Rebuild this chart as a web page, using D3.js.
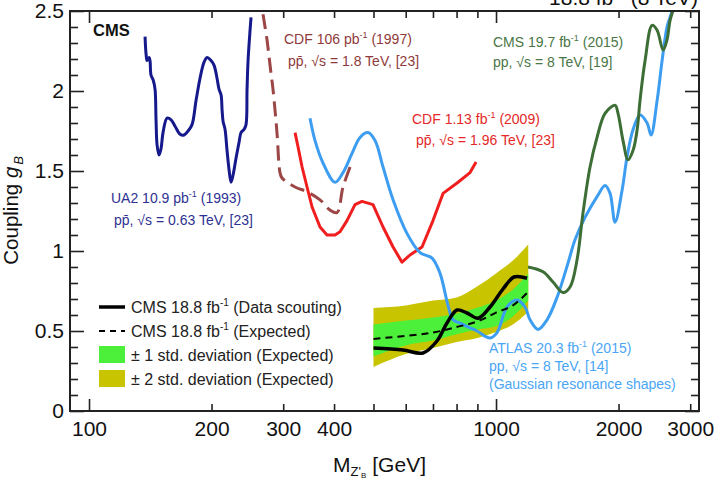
<!DOCTYPE html>
<html>
<head>
<meta charset="utf-8">
<script src="https://cdn.jsdelivr.net/npm/d3@7"></script>
<style>
  body { margin: 0; background: #fff; }
  svg { font-family: "Liberation Sans", Arial, Helvetica, sans-serif; }
</style>
</head>
<body>
<div id="chart"></div>
<script>
// ---- data ----
const ua2Mass = [137.3, 138.1, 138.9, 140.4, 141.2, 142.0, 143.7, 145.3, 146.1, 147.0, 148.6, 150.3, 152.0, 155.5, 159.1, 162.7, 167.4, 171.2, 175.1, 179.1, 183.2, 187.4, 191.7, 195.0, 199.4, 202.9, 206.3, 208.7, 211.1, 212.3, 213.5, 215.9, 218.3, 220.8, 223.3, 225.9, 229.7, 233.7, 236.3, 240.4, 243.1, 244.5, 245.9, 248.7, 250.1];
const ua2Coupling = [2.34, 2.23, 2.19, 2.21, 2.19, 2.10, 2.07, 2.01, 1.82, 1.66, 1.60, 1.64, 1.74, 1.83, 1.82, 1.78, 1.73, 1.725, 1.75, 1.79, 1.94, 2.08, 2.18, 2.21, 2.19, 2.16, 2.08, 2.01, 1.975, 1.88, 1.81, 1.76, 1.63, 1.51, 1.43, 1.475, 1.58, 1.68, 1.74, 1.76, 1.79, 2.01, 2.19, 2.38, 2.46];

const cdf106Mass = [267.6, 273.7, 280.0, 283.2, 289.6, 294.6, 298.0, 320.8, 343.3, 369.5, 390.9, 406.7, 420.8, 442.8];
const cdf106Coupling = [2.48, 2.32, 2.11, 2.01, 1.74, 1.49, 1.456, 1.40, 1.37, 1.32, 1.256, 1.24, 1.40, 1.556];

const cdf113Mass = [320.8, 326.3, 333.8, 343.3, 353.2, 369.5, 384.4, 402.2, 413.7, 430.4, 450.3, 468.5, 498.6, 527.7, 558.5, 587.5, 614.7, 658.0, 700.1, 741.0, 802.3, 863.4, 893.3];
const cdf113Coupling = [1.74, 1.65, 1.525, 1.40, 1.275, 1.15, 1.10, 1.10, 1.12, 1.19, 1.29, 1.31, 1.29, 1.15, 1.025, 0.93, 0.975, 1.025, 1.19, 1.36, 1.425, 1.49, 1.556];

const atlasMass = [349.1, 359.2, 375.8, 402.2, 420.8, 442.8, 463.3, 484.8, 504.4, 527.7, 558.5, 604.2, 650.6, 696.4, 728.6, 762.2, 784.1, 815.8, 853.5, 898.2, 966.7, 1005.8, 1064.3, 1126.2, 1178.4, 1212.2, 1268.4, 1334.6, 1412.3, 1502.9, 1563.6, 1654.6, 1771.1, 1853.2, 1906.4, 1961.2, 2040.6, 2099.3, 2171.6, 2259.3, 2350.6, 2404.3, 2487.6, 2559.0, 2631.0, 2706.6, 2760.0];
const atlasCoupling = [1.83, 1.69, 1.55, 1.43, 1.49, 1.61, 1.71, 1.74, 1.69, 1.525, 1.32, 1.11, 0.99, 0.956, 0.86, 0.66, 0.57, 0.55, 0.525, 0.50, 0.456, 0.49, 0.65, 0.694, 0.65, 0.57, 0.51, 0.57, 0.71, 0.925, 1.07, 1.21, 1.34, 1.41, 1.36, 1.18, 1.38, 1.59, 1.76, 1.85, 1.80, 1.725, 1.94, 2.19, 2.40, 2.50, 2.60];

const cms197Mass = [1198.6, 1304.7, 1380.4, 1461.1, 1520.1, 1581.3, 1636.1, 1702.2, 1771.1, 1853.2, 1961.2, 1994.2, 2051.2, 2110.1, 2171.6, 2221.2, 2259.3, 2324.1, 2418.1, 2487.6, 2573.3, 2631.0, 2676.1, 2722.2, 2760.0];
const cms197Coupling = [0.90, 0.87, 0.806, 0.74, 0.775, 0.944, 1.24, 1.525, 1.71, 1.86, 1.91, 1.86, 1.69, 1.57, 1.63, 1.756, 1.944, 2.19, 2.41, 2.38, 2.256, 2.32, 2.44, 2.506, 2.60];

const bandMass = [500, 600, 700, 800, 900, 1000, 1100, 1200];
const twoSigmaUp = [0.644, 0.66, 0.69, 0.71, 0.78, 0.86, 0.94, 1.04];
const twoSigmaDown = [0.275, 0.356, 0.394, 0.431, 0.456, 0.494, 0.54, 0.62];
const oneSigmaUp = [0.54, 0.565, 0.585, 0.61, 0.645, 0.69, 0.76, 0.86];
const oneSigmaDown = [0.34, 0.41, 0.44, 0.48, 0.51, 0.53, 0.59, 0.69];
const expected = [0.45, 0.47, 0.49, 0.525, 0.56, 0.615, 0.66, 0.745];

const observedMass = [500, 590.9, 661.6, 716.1, 757.8, 802.3, 848.6, 903.2, 966.7, 1040.4, 1107.1, 1192];
const observed = [0.394, 0.381, 0.3625, 0.4375, 0.55, 0.631, 0.6125, 0.58, 0.65, 0.7625, 0.8375, 0.83];

const xTicks = [100, 200, 300, 400, 500, 600, 700, 800, 900, 1000, 2000, 3000];
const xTickLabels = [100, 200, 300, 400, 1000, 2000, 3000];
const yMajor = [0, 0.5, 1, 1.5, 2, 2.5];

// ---- layout ----
const width = 714, height = 480;
const plotLeft = 70, plotRight = 699, plotTop = 11, plotBottom = 411;

const svg = d3.select("#chart").append("svg")
    .attr("width", width)
    .attr("height", height);

const x = d3.scaleLog().domain([89.8, 3153]).range([plotLeft, plotRight]);
const y = d3.scaleLinear().domain([0, 2.5]).range([plotBottom, plotTop]);

svg.append("clipPath").attr("id", "plotClip")
    .append("rect")
    .attr("x", plotLeft).attr("y", plotTop)
    .attr("width", plotRight - plotLeft).attr("height", plotBottom - plotTop);

const plot = svg.append("g").attr("clip-path", "url(#plotClip)");

const zip = (xs, ys) => xs.map((m, i) => [m, ys[i]]);

// bands
const band = d3.area()
    .x(d => x(d[0]))
    .y0(d => y(d[1]))
    .y1(d => y(d[2]))
    .curve(d3.curveMonotoneX);

plot.append("path")
    .datum(bandMass.map((m, i) => [m, twoSigmaDown[i], twoSigmaUp[i]]))
    .attr("d", band)
    .attr("fill", "#c9c400");

plot.append("path")
    .datum(bandMass.map((m, i) => [m, oneSigmaDown[i], oneSigmaUp[i]]))
    .attr("d", band)
    .attr("fill", "#4cf03a");

const smooth = d3.line()
    .x(d => x(d[0]))
    .y(d => y(d[1]))
    .curve(d3.curveCatmullRom.alpha(0.5));

const straight = d3.line()
    .x(d => x(d[0]))
    .y(d => y(d[1]));

function drawCurve(data, gen, color, w, dash) {
    const p = plot.append("path")
        .datum(data)
        .attr("d", gen)
        .attr("fill", "none")
        .attr("stroke", color)
        .attr("stroke-width", w)
        .attr("stroke-linejoin", "round");
    if (dash) p.attr("stroke-dasharray", dash);
    return p;
}

drawCurve(zip(ua2Mass, ua2Coupling), smooth, "#16198c", 3);
drawCurve(zip(cdf106Mass, cdf106Coupling), smooth, "#9c4646", 3, "15,7");
drawCurve(zip(cdf113Mass, cdf113Coupling), straight, "#f01e1e", 3);
drawCurve(zip(atlasMass, atlasCoupling), smooth, "#3d9df0", 3);
drawCurve(zip(cms197Mass, cms197Coupling), smooth, "#3d6e36", 3);
drawCurve(zip(bandMass, expected), smooth, "#000", 2, "7,5");
drawCurve(zip(observedMass, observed), smooth, "#000", 3.5);

// ---- axes ----
const axisG = svg.append("g");

const xBottom = axisG.append("g")
    .attr("transform", `translate(0,${plotBottom})`)
    .call(d3.axisBottom(x).tickValues(xTicks).tickSize(-7).tickPadding(10)
        .tickFormat(d => xTickLabels.includes(d) ? d : ""));
xBottom.selectAll(".tick line").attr("y2", d => (d === 100 || d === 1000) ? -12 : -7);

const xTop = axisG.append("g")
    .attr("transform", `translate(0,${plotTop})`)
    .call(d3.axisTop(x).tickValues(xTicks).tickSize(-7).tickFormat(""));
xTop.selectAll(".tick line").attr("y2", d => (d === 100 || d === 1000) ? 12 : 7);

const yTicks = d3.range(0, 26).map(i => i / 10);
const isMajor = d => yMajor.some(v => Math.abs(v - d) < 1e-6);

const yLeft = axisG.append("g")
    .attr("transform", `translate(${plotLeft},0)`)
    .call(d3.axisLeft(y).tickValues(yTicks).tickSize(-8).tickPadding(6)
        .tickFormat(d => isMajor(d) ? d3.format("~g")(d) : ""));
yLeft.selectAll(".tick line").attr("x2", d => isMajor(d) ? 14 : 8);

const yRight = axisG.append("g")
    .attr("transform", `translate(${plotRight},0)`)
    .call(d3.axisRight(y).tickValues(yTicks).tickSize(-8).tickFormat(""));
yRight.selectAll(".tick line").attr("x2", d => isMajor(d) ? -14 : -8);

axisG.selectAll(".domain").remove();
axisG.selectAll(".tick text").filter(function () { return this.textContent === ""; }).remove();
axisG.selectAll(".tick line").attr("stroke", "#222").attr("stroke-width", 1.6);
axisG.selectAll(".tick text")
    .attr("font-family", "'Liberation Sans', Arial, sans-serif")
    .attr("font-size", 21).attr("fill", "#111");

svg.append("rect")
    .attr("x", plotLeft).attr("y", plotTop)
    .attr("width", plotRight - plotLeft).attr("height", plotBottom - plotTop)
    .attr("fill", "none")
    .attr("stroke", "#222")
    .attr("stroke-width", 2);

// axis titles
const xTitle = svg.append("text")
    .attr("x", 333).attr("y", 472)
    .attr("font-size", 21).attr("fill", "#111");
xTitle.append("tspan").text("M");
xTitle.append("tspan").attr("font-size", 13).attr("dy", 4).text("Z'");
xTitle.append("tspan").attr("font-size", 8).attr("dy", 2).text("B");
xTitle.append("tspan").attr("dy", -6).attr("dx", 6).text("[GeV]");

const yTitle = svg.append("text")
    .attr("transform", "translate(18,156) rotate(-90)")
    .attr("text-anchor", "end")
    .attr("font-size", 20.5).attr("fill", "#111");
yTitle.append("tspan").text("Coupling ");
yTitle.append("tspan").attr("font-style", "italic").text("g");
yTitle.append("tspan").attr("font-style", "italic").attr("font-size", 13).attr("dy", 5).attr("dx", 2).text("B");

// header (cut by the top edge, as in the original)
const header = svg.append("text")
    .attr("x", 698).attr("y", 5)
    .attr("text-anchor", "end")
    .attr("font-size", 21).attr("fill", "#111");
header.append("tspan").text("18.8 fb");
header.append("tspan").attr("font-size", 13).attr("dy", -8).text("-1");
header.append("tspan").attr("dy", 8).text(" (8 TeV)");

svg.append("text")
    .attr("x", 93).attr("y", 36)
    .attr("font-size", 16.5).attr("font-weight", "bold").attr("fill", "#111")
    .text("CMS");

// annotations: parts are plain strings, or { raise: "..." } for superscripts
function note(xp, yp, color, parts) {
    const t = svg.append("text")
        .attr("x", xp).attr("y", yp)
        .attr("font-size", 14).attr("fill", color);
    let shift = 0;
    parts.forEach(p => {
        if (typeof p === "string") {
            t.append("tspan").attr("dy", shift).text(p);
            shift = 0;
        } else {
            t.append("tspan").attr("font-size", 9).attr("dy", -6).text(p.raise);
            shift = 6;
        }
    });
}

const pbar = "pp\u0304";
note(284, 44, "#8f3a3a", ["CDF 106 pb", { raise: "-1" }, " (1997)"]);
note(288, 66, "#8f3a3a", [pbar + ", \u221As = 1.8 TeV, [23]"]);
note(493, 47, "#4a7646", ["CMS 19.7 fb", { raise: "-1" }, " (2015)"]);
note(493, 67, "#4a7646", ["pp, \u221As = 8 TeV, [19]"]);
note(412, 124, "#e42828", ["CDF 1.13 fb", { raise: "-1" }, " (2009)"]);
note(416, 145, "#e42828", [pbar + ", \u221As = 1.96 TeV, [23]"]);
note(111, 203, "#2e3192", ["UA2 10.9 pb", { raise: "-1" }, " (1993)"]);
note(114, 225, "#2e3192", [pbar + ", \u221As = 0.63 TeV, [23]"]);
note(489, 353, "#4aa5f5", ["ATLAS 20.3 fb", { raise: "-1" }, " (2015)"]);
note(489, 371, "#4aa5f5", ["pp, \u221As = 8 TeV, [14]"]);
note(489, 389, "#4aa5f5", ["(Gaussian resonance shapes)"]);

// legend
const legendRows = [
    { label: "(Data scouting)", kind: "line" },
    { label: "(Expected)", kind: "dash" },
    { label: "\u00B1 1 std. deviation (Expected)", kind: "box", color: "#4cf03a" },
    { label: "\u00B1 2 std. deviation (Expected)", kind: "box", color: "#c9c400" }
];

const legend = svg.append("g");
legendRows.forEach((r, i) => {
    const cy = 307 + i * 24;
    if (r.kind === "line" || r.kind === "dash") {
        legend.append("line")
            .attr("x1", 99).attr("x2", 125).attr("y1", cy).attr("y2", cy)
            .attr("stroke", "#000")
            .attr("stroke-width", r.kind === "line" ? 3.5 : 2)
            .attr("stroke-dasharray", r.kind === "dash" ? "6,5" : null);
    } else {
        legend.append("rect")
            .attr("x", 99).attr("y", cy - 9).attr("width", 26).attr("height", 17)
            .attr("fill", r.color);
    }
    const t = legend.append("text")
        .attr("x", 131).attr("y", cy + 6)
        .attr("font-size", 16).attr("fill", "#222");
    if (i < 2) {
        t.append("tspan").text("CMS 18.8 fb");
        t.append("tspan").attr("font-size", 10).attr("dy", -7).text("-1");
        t.append("tspan").attr("dy", 7).text(" " + r.label);
    } else {
        t.text(r.label);
    }
});
</script>
</body>
</html>
